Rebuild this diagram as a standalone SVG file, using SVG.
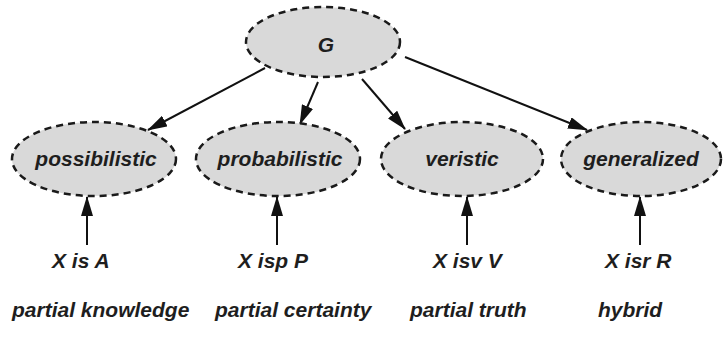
<svg xmlns="http://www.w3.org/2000/svg" width="723" height="338" viewBox="0 0 723 338">
  <defs>
    <marker id="arrow" markerUnits="userSpaceOnUse" markerWidth="20" markerHeight="12" refX="19" refY="6" orient="auto">
      <path d="M0,0 L20,6 L0,12 Z" fill="#111"/>
    </marker>
    <style>
      .node ellipse { fill: #d9d9d9; stroke: #1a1a1a; stroke-width: 2.5; stroke-dasharray: 7 5; }
      .lbl { font-family: "Liberation Sans", Arial, sans-serif; font-weight: bold; font-style: italic; font-size: 21px; fill: #1e1e1e; }
      .mid { text-anchor: middle; }
      .edge { stroke: #111; stroke-width: 2; fill: none; marker-end: url(#arrow); }
    </style>
  </defs>
  <rect width="723" height="338" fill="#fff"/>

  <g id="connectors">
    <line class="edge" x1="265" y1="68" x2="148" y2="130"/>
    <line class="edge" x1="318" y1="82" x2="300" y2="124"/>
    <line class="edge" x1="362" y1="79" x2="405" y2="129"/>
    <line class="edge" x1="405" y1="57" x2="587" y2="130"/>
    <line class="edge" x1="87" y1="245" x2="87" y2="197"/>
    <line class="edge" x1="277" y1="245" x2="277" y2="197"/>
    <line class="edge" x1="467" y1="245" x2="467" y2="197"/>
    <line class="edge" x1="640" y1="245" x2="640" y2="197"/>
  </g>

  <g id="G" class="node">
    <ellipse cx="323" cy="42" rx="77" ry="35"/>
    <text class="lbl mid" x="326" y="52">G</text>
  </g>
  <g id="possibilistic" class="node">
    <ellipse cx="94" cy="159" rx="82" ry="37"/>
    <text class="lbl mid" x="96" y="166">possibilistic</text>
  </g>
  <g id="probabilistic" class="node">
    <ellipse cx="278" cy="159" rx="82" ry="37"/>
    <text class="lbl mid" x="280" y="166">probabilistic</text>
  </g>
  <g id="veristic" class="node">
    <ellipse cx="462" cy="159" rx="81" ry="37"/>
    <text class="lbl mid" x="462" y="166">veristic</text>
  </g>
  <g id="generalized" class="node">
    <ellipse cx="641" cy="159" rx="80" ry="37"/>
    <text class="lbl mid" x="641" y="166">generalized</text>
  </g>

  <g id="relations">
    <text class="lbl" x="52" y="268">X is A</text>
    <text class="lbl" x="238" y="268">X isp P</text>
    <text class="lbl" x="433" y="268">X isv V</text>
    <text class="lbl" x="605" y="268">X isr R</text>
  </g>
  <g id="captions">
    <text class="lbl" x="12" y="317">partial knowledge</text>
    <text class="lbl" x="215" y="317">partial certainty</text>
    <text class="lbl" x="410" y="317">partial truth</text>
    <text class="lbl" x="598" y="317">hybrid</text>
  </g>
</svg>
